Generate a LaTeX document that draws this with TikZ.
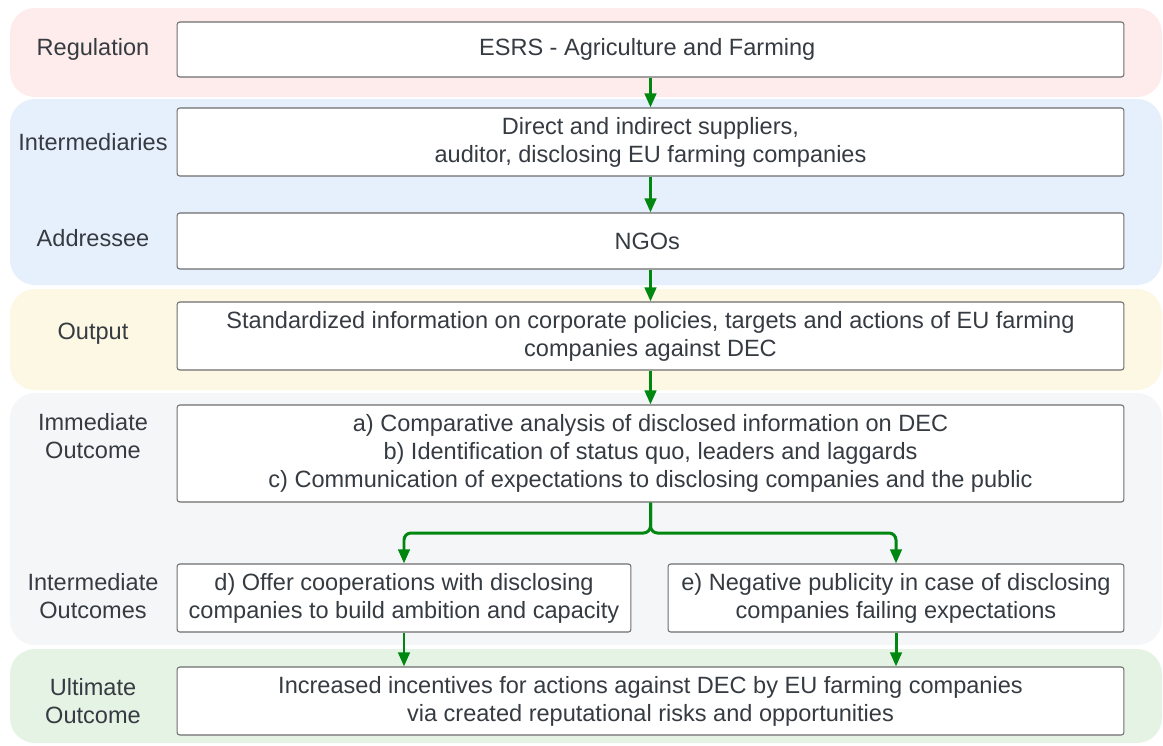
\documentclass[tikz,border=0pt]{standalone}
\usepackage{fontspec}
\setmainfont{Liberation Sans}
\usepackage{xcolor}
\usetikzlibrary{positioning, arrows.meta}

\definecolor{txtgray}{HTML}{363B42}
\definecolor{boxgray}{HTML}{6E6E6E}
\definecolor{flowgreen}{HTML}{00870F}
\definecolor{bandpink}{HTML}{FDECEB}
\definecolor{bandblue}{HTML}{E6F0FC}
\definecolor{bandyellow}{HTML}{FDF8E3}
\definecolor{bandgray}{HTML}{F5F6F8}
\definecolor{bandgreen}{HTML}{E4F3E4}

\begin{document}
\begin{tikzpicture}[
    x=0.02cm, y=-0.02cm,
    band/.style={
        rounded corners=0.5cm
    },
    box/.style={
        rectangle,
        rounded corners=1.5pt,
        draw=boxgray,
        fill=white,
        line width=0.6pt,
        minimum width=18.94cm,
        minimum height=1.36cm,
        align=center,
        text=txtgray,
        font=\fontsize{13.4}{15.9}\selectfont
    },
    lane/.style={
        align=center,
        text=txtgray,
        font=\fontsize{13.4}{15.9}\selectfont
    },
    arrow/.style={
        line width=1.7pt,
        draw=flowgreen,
        -{Triangle[width=6.5pt, length=8pt]}
    }
]

\useasboundingbox (0,0) rectangle (1163,745);

% Background bands

\fill[band, bandpink] (10,8) rectangle (1162,97);
\fill[band, bandblue] (10,99) rectangle (1162,285);
\fill[band, bandyellow] (10,289) rectangle (1162,390);
\fill[band, bandgray] (10,393) rectangle (1162,645);
\fill[band, bandgreen] (10,649) rectangle (1162,743);

% Lane labels

\node[lane] (lreg) at (93,49) {Regulation};
\node[lane] (linter) at (93,142) {Intermediaries};
\node[lane] (laddr) at (93,238) {Addressee};
\node[lane] (lout) at (93,334) {Output};
\node[lane] (limm) at (93,436) {Immediate\\Outcome};
\node[lane] (lmid) at (93,596) {Intermediate\\Outcomes};
\node[lane] (lult) at (93,701) {Ultimate\\Outcome};

% Main flow

\node[box, minimum height=1.1cm] (esrs) at (650.5,49.5) {
ESRS - Agriculture and Farming
};

\node[box] (suppliers) at (650.5,142) {
Direct and indirect suppliers,\\
auditor, disclosing EU farming companies
};

\node[box, minimum height=1.12cm] (ngos) at (650.5,241) {
NGOs
};

\node[box] (info) at (650.5,336) {
Standardized information on corporate policies, targets and actions of EU farming\\
companies against DEC
};

\node[box, minimum height=1.94cm] (analysis) at (650.5,453.5) {
a) Comparative analysis of disclosed information on DEC\\
b) Identification of status quo, leaders and laggards\\
c) Communication of expectations to disclosing companies and the public
};


% Branches

\node[box, minimum width=9.08cm] (coop) at (404,598) {
d) Offer cooperations with disclosing\\
companies to build ambition and capacity
};

\node[box, minimum width=9.12cm] (publicity) at (896,598) {
e) Negative publicity in case of disclosing\\
companies failing expectations
};

\node[box] (incentives) at (650.5,701) {
Increased incentives for actions against DEC by EU farming companies\\
via created reputational risks and opportunities
};

\coordinate (split) at (650.5,533);


% Arrows

\draw[arrow] (esrs)--(suppliers);
\draw[arrow] (suppliers)--(ngos);
\draw[arrow] (ngos)--(info);
\draw[arrow] (info)--(analysis);

\draw[arrow, rounded corners=4pt] (analysis.south)--(split)-|(coop.north);
\draw[arrow, rounded corners=4pt] (analysis.south)--(split)-|(publicity.north);

\draw[arrow] (coop.south)--(coop.south |- incentives.north);
\draw[arrow] (publicity.south)--(publicity.south |- incentives.north);

\end{tikzpicture}
\end{document}
